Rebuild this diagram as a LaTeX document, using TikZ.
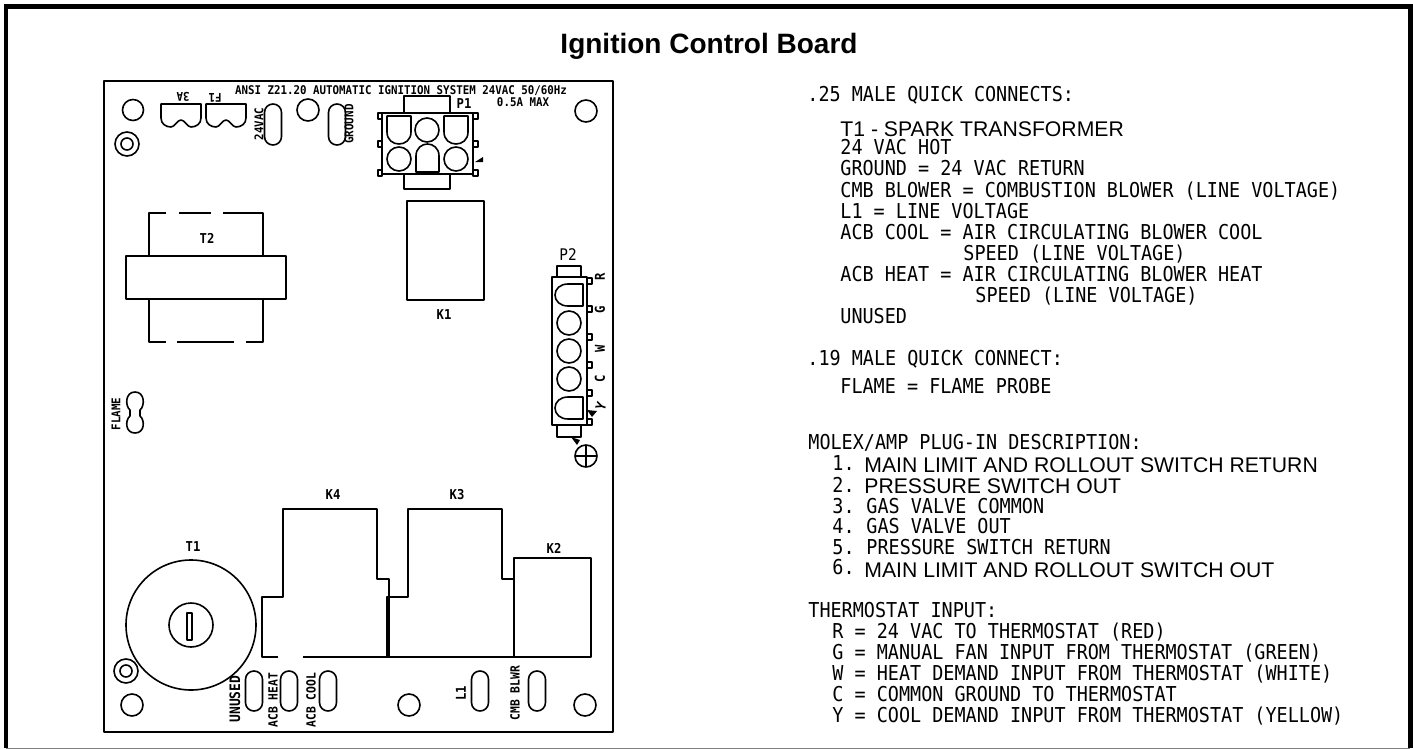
\documentclass[tikz,border=0pt]{standalone}
\usepackage{fontspec}
\setmainfont{Liberation Sans}
\newfontfamily\cadfont[FakeStretch=0.9]{DejaVu Sans Mono}
\tikzset{
    part/.style={line width=0.8pt, line join=round},
    oval/.style={part, rounded corners=4.2pt},
    holdfill/.style={fill=black},
    cadline/.style={anchor=base west, inner sep=0pt, font=\cadfont\fontsize{10.25}{12}\selectfont},
    arialline/.style={anchor=base west, inner sep=0pt, font=\fontsize{10.6}{12}\selectfont},
    tiny label/.style={inner sep=0pt, font=\cadfont\bfseries\fontsize{6}{7}\selectfont},
    part label/.style={inner sep=0pt, font=\cadfont\bfseries\fontsize{6.8}{7}\selectfont},
    big label/.style={inner sep=0pt, font=\cadfont\fontsize{8}{9}\selectfont},
}
\begin{document}
\begin{tikzpicture}[x=0.5pt, y=-0.5pt]
    \useasboundingbox (0,0) rectangle (1413,749);
    % outer frame
    \draw [line width=2.3pt] (1410.5,748) -- (1410.5,6.5) -- (6,6.5) -- (6,748);
    \draw [line width=0.5pt, gray] (6,748) -- (1410,748);
    \node (title) [anchor=base, inner sep=0pt, font=\bfseries\fontsize{14}{15}\selectfont] at (709,54) {Ignition Control Board};

    % board
    \draw [part] (104,81) rectangle (613,732);
    \node (ansi) [tiny label] at (401,91) {ANSI Z21.20 AUTOMATIC IGNITION SYSTEM 24VAC 50/60Hz};
    \node (maxamps) [tiny label] at (523,102) {0.5A MAX};

    % mounting holes
    \draw [part] (133,110) circle [radius=10.5];
    \draw [part] (308,110) circle [radius=11];
    \draw [part] (586,111) circle [radius=11];
    \draw [part] (132,705) circle [radius=11];
    \draw [part] (409,705) circle [radius=11];
    \draw [part] (585,705) circle [radius=11];
    \draw [part] (127,144) circle [radius=12];
    \draw [part] (127,144) circle [radius=6];

    % fuse clips
    \draw [part] (161,104) -- (161,118) .. controls (161,124) and (166,127) .. (171,127) .. controls (175,127) and (177,120) .. (181,120) .. controls (185,120) and (187,127) .. (191,127) .. controls (196,127) and (201,124) .. (201,118) -- (201,104) -- cycle;
    \draw [part] (206,104) -- (206,118) .. controls (206,124) and (211,127) .. (216,127) .. controls (220,127) and (222,120) .. (226,120) .. controls (230,120) and (232,127) .. (236,127) .. controls (241,127) and (246,124) .. (246,118) -- (246,104) -- cycle;
    \node (fuseamps) [tiny label, rotate=180] at (183,97) {3A};
    \node (fusename) [tiny label, rotate=180] at (215,98) {F1};

    % spade terminals, top
    \draw [oval] (264.5,104) rectangle (281.5,145);
    \draw [oval] (328.5,104) rectangle (345.5,145);
    \node (hotlabel) [tiny label, rotate=90] at (259,124) {24VAC};
    \node (gndlabel) [tiny label, rotate=90] at (349,124) {GROUND};

    % plug P1
    \draw [part] (382,113) rectangle (473,174);
    \draw [part] (404,113) -- (404,96) -- (450,96) -- (450,113);
    \draw [part] (404,174) -- (404,189) -- (450,189) -- (450,174);
    \draw [part] (378,113) rectangle (382,119);
    \draw [part] (378,141) rectangle (382,147);
    \draw [part] (378,170) rectangle (382,176);
    \draw [part] (473,113) rectangle (478,119);
    \draw [part] (473,141) rectangle (478,147);
    \draw [part] (473,170) rectangle (478,176);
    \draw [part] (387,116) -- (411,116) -- (411,132) .. controls (411,140) and (405,144) .. (399,144) .. controls (393,144) and (387,140) .. (387,132) -- cycle;
    \draw [part] (444,116) -- (468,116) -- (468,132) .. controls (468,140) and (462,144) .. (456,144) .. controls (450,144) and (444,140) .. (444,132) -- cycle;
    \draw [part] (416,172) -- (439,172) -- (439,156) .. controls (439,148) and (433,144) .. (427.5,144) .. controls (422,144) and (416,148) .. (416,156) -- cycle;
    \draw [part] (427,130) circle [radius=12];
    \draw [part] (399,159) circle [radius=12];
    \draw [part] (456,159) circle [radius=12];
    \fill [holdfill] (475,162) -- (483,157) -- (483,162) -- cycle;
    \node (plugone) [part label] at (464,104) {P1};

    % relay K1 and transformer T2
    \draw [part] (407,201) rectangle (484,300);
    \node (relayone) [part label] at (444,315) {K1};
    \draw [part] (166,213) -- (149,213) -- (149,256);
    \draw [part] (179,213) -- (211,213);
    \draw [part] (223,213) -- (263,213) -- (263,256);
    \draw [part] (126,256) rectangle (286,299);
    \draw [part] (149,299) -- (149,342) -- (166,342);
    \draw [part] (177,342) -- (234,342);
    \draw [part] (246,342) -- (263,342) -- (263,299);
    \node (transtwo) [part label] at (207,238) {T2};

    % plug P2
    \draw [part] (552,277) rectangle (587,425);
    \draw [part] (557,277) -- (557,266) -- (581,266) -- (581,277);
    \draw [part] (557,425) -- (557,437) -- (581,437) -- (581,425);
    \draw [part] (587,278) rectangle (592,284);
    \draw [part] (587,306) rectangle (592,312);
    \draw [part] (587,334) rectangle (592,340);
    \draw [part] (587,362) rectangle (592,368);
    \draw [part] (587,390) rectangle (592,396);
    \draw [part] (587,419) rectangle (592,425);
    \draw [part] (583,284) -- (583,306) -- (568,306) .. controls (560,306) and (555,301) .. (555,295) .. controls (555,289) and (560,284) .. (568,284) -- cycle;
    \draw [part] (583,397) -- (583,419) -- (568,419) .. controls (560,419) and (555,414) .. (555,408) .. controls (555,402) and (560,397) .. (568,397) -- cycle;
    \draw [part] (569,323) circle [radius=12];
    \draw [part] (569,351) circle [radius=12];
    \draw [part] (569,379) circle [radius=12];
    \fill [holdfill] (587,410) -- (597,411) -- (592,417) -- cycle;
    \fill [holdfill] (571,437) -- (580,440) -- (577,445) -- cycle;
    \node (plugtwo) [big label] at (568,255) {P2};
    \node (pinr) [part label, rotate=90] at (600,277) {R};
    \node (ping) [part label, rotate=90] at (600,310) {G};
    \node (pinw) [part label, rotate=90] at (600,349) {W};
    \node (pinc) [part label, rotate=90] at (600,379) {C};
    \node (piny) [part label, rotate=70] at (601,406) {Y};
    \draw [part] (586,456) circle [radius=11];
    \draw [part] (575,456) -- (597,456);
    \draw [part] (586,445) -- (586,467);

    % flame terminal
    \draw [part] (130,410) .. controls (125,406) and (125,392) .. (135,392) .. controls (145,392) and (145,406) .. (140,410) -- (140,416) .. controls (145,420) and (145,433) .. (135,433) .. controls (125,433) and (125,420) .. (130,416) -- cycle;
    \node (flamelabel) [tiny label, rotate=90] at (116,414) {FLAME};

    % spark transformer T1
    \draw [part] (191,625) circle [radius=65];
    \draw [part] (191,625) circle [radius=22];
    \draw [part] (187,613) rectangle (192,640);
    \node (transone) [part label] at (193,547) {T1};
    \draw [part] (126,671) circle [radius=12];
    \draw [part] (126,671) circle [radius=6];

    % relays K4 K3 K2
    \draw [part] (278,657) -- (262,657) -- (262,597) -- (283,597) -- (283,509) -- (377,509) -- (377,579) -- (389,579) -- (389,657) -- (303,657);
    \draw [part] (387,657) -- (387,597) -- (408,597) -- (408,509) -- (502,509) -- (502,579) -- (514,579) -- (514,657) -- cycle;
    \draw [part] (514,558) rectangle (591,657);
    \node (relayfour) [part label] at (333,495) {K4};
    \node (relaythree) [part label] at (457,495) {K3};
    \node (relaytwo) [part label] at (554,548) {K2};

    % spade terminals, bottom
    \draw [oval] (245.5,671) rectangle (262.5,711);
    \draw [oval] (280.5,671) rectangle (297.5,711);
    \draw [oval] (319.5,671) rectangle (336.5,711);
    \draw [oval] (471.5,671) rectangle (488.5,711);
    \draw [oval] (528.5,671) rectangle (545.5,711);
    \node (unusedlabel) [part label, font=\cadfont\bfseries\fontsize{7.2}{8}\selectfont, rotate=90] at (235,699) {UNUSED};
    \node (heatlabel) [tiny label, font=\cadfont\bfseries\fontsize{6.3}{7}\selectfont, rotate=90] at (273,700) {ACB HEAT};
    \node (coollabel) [tiny label, font=\cadfont\bfseries\fontsize{6.3}{7}\selectfont, rotate=90] at (311,700) {ACB COOL};
    \node (lonelabel) [part label, rotate=90] at (461,693) {L1};
    \node (cmblabel) [tiny label, font=\cadfont\bfseries\fontsize{6.3}{7}\selectfont, rotate=90] at (515,693) {CMB BLWR};

    % right hand column
    \node (quick) [cadline] at (807,102) {.25 MALE QUICK CONNECTS:};
    \node (sparkline) [arialline] at (840,136) {T1 - SPARK TRANSFORMER};
    \node (hotline) [cadline] at (840,155) {24 VAC HOT};
    \node (gndline) [cadline] at (840,176) {GROUND = 24 VAC RETURN};
    \node (cmbline) [cadline] at (840,197) {CMB BLOWER = COMBUSTION BLOWER (LINE VOLTAGE)};
    \node (loneline) [cadline] at (840,218) {L1 = LINE VOLTAGE};
    \node (coolline) [cadline] at (840,239) {ACB COOL = AIR CIRCULATING BLOWER COOL};
    \node (coolspeed) [cadline] at (963,260) {SPEED (LINE VOLTAGE)};
    \node (heatline) [cadline] at (840,281) {ACB HEAT = AIR CIRCULATING BLOWER HEAT};
    \node (heatspeed) [cadline] at (975,302) {SPEED (LINE VOLTAGE)};
    \node (unusedline) [cadline] at (840,323) {UNUSED};
    \node (quicksmall) [cadline] at (807,365) {.19 MALE QUICK CONNECT:};
    \node (flameline) [cadline] at (840,393) {FLAME = FLAME PROBE};
    \node (molex) [cadline] at (808,449) {MOLEX/AMP PLUG-IN DESCRIPTION:};
    \node (numone) [cadline] at (832,470) {1.};
    \node (mainret) [arialline] at (864,472) {MAIN LIMIT AND ROLLOUT SWITCH RETURN};
    \node (numtwo) [cadline] at (832,492) {2.};
    \node (pressout) [arialline] at (864,493) {PRESSURE SWITCH OUT};
    \node (gascommon) [cadline] at (832,513) {3.\kern-1.5pt{} GAS VALVE COMMON};
    \node (gasout) [cadline] at (832,533) {4.\kern-1.5pt{} GAS VALVE OUT};
    \node (pressret) [cadline] at (832,554) {5.\kern-1.5pt{} PRESSURE SWITCH RETURN};
    \node (numsix) [cadline] at (832,574) {6.};
    \node (mainout) [arialline] at (864,577) {MAIN LIMIT AND ROLLOUT SWITCH OUT};
    \node (thermo) [cadline] at (808,617) {THERMOSTAT INPUT:};
    \node (rline) [cadline] at (832,638) {R = 24 VAC TO THERMOSTAT (RED)};
    \node (gline) [cadline] at (832,659) {G = MANUAL FAN INPUT FROM THERMOSTAT (GREEN)};
    \node (wline) [cadline] at (832,680) {W = HEAT DEMAND INPUT FROM THERMOSTAT (WHITE)};
    \node (cline) [cadline] at (832,701) {C = COMMON GROUND TO THERMOSTAT};
    \node (yline) [cadline] at (832,722) {Y = COOL DEMAND INPUT FROM THERMOSTAT (YELLOW)};
\end{tikzpicture}
\end{document}
